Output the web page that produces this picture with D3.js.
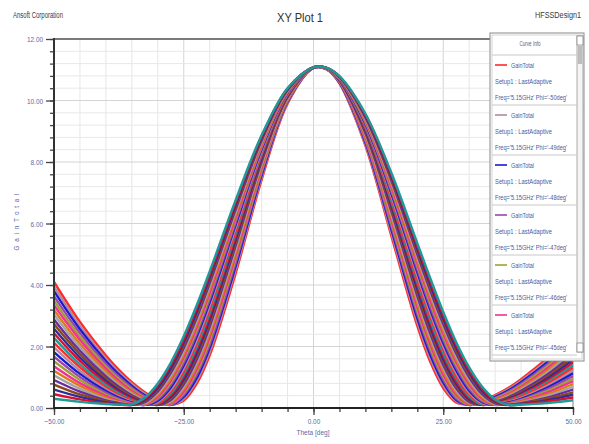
<!DOCTYPE html>
<html><head><meta charset="utf-8">
<script src="https://cdn.jsdelivr.net/npm/d3@7"></script>
<style>
body{margin:0;background:#fff;}
svg{display:block;}
text{font-family:"Liberation Sans Narrow","Arial Narrow","Liberation Sans",Arial,sans-serif;}
</style></head><body>
<svg id="chart" width="589" height="444"></svg>
<script>
// ---------------- DATA ----------------
const theta = [-50,-45,-40,-37.5,-35,-32.5,-30,-27.5,-25,-22.5,-20,-15,-10,-5,0,2.5,5,10,15,20,22.5,25,27.5,30,32.5,35,37.5,40,45,50];
const phiDeg = [-50,-49,-48,-47,-46,-45,-44,-43,-42,-41,-40,-39,-38,-37,-36,-35,-34,-33,-32,-31,-30,-29,-28,-27,-26,-25];

const phi_m50 = [4.10,2.80,1.71,1.24,0.84,0.51,0.25,0.11,0.24,0.79,1.71,4.38,7.42,9.90,11.06,11.02,10.56,8.53,5.60,2.67,1.50,0.65,0.18,0.12,0.23,0.42,0.65,0.94,1.62,2.45];
const phi_m49 = [3.95,2.68,1.61,1.16,0.78,0.46,0.22,0.10,0.30,0.89,1.83,4.50,7.50,9.93,11.06,11.02,10.57,8.58,5.70,2.80,1.62,0.74,0.22,0.11,0.21,0.39,0.61,0.89,1.55,2.36];
const phi_m48 = [3.80,2.56,1.53,1.09,0.72,0.41,0.20,0.10,0.36,0.98,1.95,4.61,7.57,9.96,11.06,11.02,10.58,8.64,5.81,2.92,1.73,0.83,0.26,0.10,0.19,0.36,0.57,0.84,1.48,2.27];
const phi_m47 = [3.64,2.44,1.44,1.02,0.66,0.37,0.17,0.11,0.42,1.08,2.06,4.73,7.65,9.98,11.06,11.03,10.60,8.69,5.91,3.05,1.85,0.92,0.31,0.10,0.17,0.33,0.53,0.79,1.42,2.19];
const phi_m46 = [3.49,2.32,1.35,0.95,0.61,0.33,0.15,0.13,0.48,1.17,2.18,4.84,7.72,10.01,11.06,11.03,10.61,8.75,6.02,3.17,1.96,1.01,0.37,0.11,0.15,0.30,0.49,0.74,1.35,2.10];
const phi_m45 = [3.34,2.21,1.27,0.88,0.55,0.30,0.13,0.15,0.54,1.27,2.30,4.96,7.80,10.04,11.07,11.03,10.62,8.80,6.12,3.30,2.08,1.10,0.43,0.12,0.14,0.27,0.45,0.69,1.28,2.01];
const phi_m44 = [3.19,2.09,1.19,0.81,0.50,0.27,0.12,0.18,0.62,1.37,2.42,5.07,7.87,10.06,11.07,11.03,10.63,8.85,6.21,3.42,2.19,1.20,0.50,0.14,0.13,0.25,0.42,0.65,1.21,1.92];
const phi_m43 = [3.04,1.98,1.11,0.75,0.46,0.23,0.11,0.22,0.69,1.48,2.53,5.17,7.93,10.08,11.07,11.03,10.64,8.90,6.30,3.53,2.31,1.30,0.57,0.17,0.12,0.22,0.38,0.60,1.15,1.83];
const phi_m42 = [2.88,1.86,1.03,0.69,0.41,0.21,0.10,0.26,0.77,1.58,2.65,5.28,8.00,10.11,11.07,11.04,10.65,8.94,6.40,3.65,2.42,1.40,0.64,0.20,0.11,0.20,0.35,0.56,1.08,1.75];
const phi_m41 = [2.73,1.75,0.95,0.63,0.37,0.18,0.10,0.31,0.85,1.69,2.76,5.38,8.06,10.13,11.07,11.04,10.66,8.99,6.49,3.76,2.54,1.50,0.72,0.24,0.10,0.18,0.32,0.51,1.02,1.66];
const phi_m40 = [2.58,1.64,0.88,0.57,0.33,0.16,0.11,0.36,0.93,1.79,2.88,5.49,8.13,10.15,11.07,11.04,10.67,9.04,6.58,3.88,2.65,1.60,0.79,0.28,0.10,0.16,0.29,0.47,0.95,1.57];
const phi_m39 = [2.43,1.53,0.81,0.52,0.30,0.14,0.12,0.41,1.02,1.90,2.99,5.58,8.19,10.17,11.07,11.04,10.68,9.08,6.66,3.99,2.76,1.70,0.87,0.33,0.11,0.15,0.27,0.44,0.89,1.48];
const phi_m38 = [2.28,1.42,0.74,0.47,0.26,0.13,0.15,0.47,1.11,2.00,3.10,5.68,8.24,10.19,11.07,11.04,10.69,9.12,6.74,4.10,2.87,1.80,0.96,0.38,0.12,0.14,0.24,0.40,0.83,1.39];
const phi_m37 = [2.12,1.32,0.67,0.42,0.23,0.11,0.17,0.54,1.20,2.11,3.22,5.77,8.30,10.21,11.07,11.05,10.70,9.16,6.82,4.20,2.98,1.91,1.04,0.44,0.14,0.13,0.22,0.37,0.78,1.31];
const phi_m36 = [1.97,1.21,0.61,0.38,0.20,0.11,0.20,0.60,1.29,2.21,3.33,5.87,8.35,10.23,11.07,11.05,10.71,9.20,6.90,4.31,3.09,2.01,1.13,0.50,0.16,0.12,0.20,0.33,0.72,1.22];
const phi_m35 = [1.82,1.11,0.55,0.34,0.18,0.10,0.24,0.67,1.38,2.32,3.44,5.96,8.41,10.25,11.07,11.05,10.72,9.24,6.98,4.42,3.20,2.11,1.22,0.56,0.19,0.11,0.18,0.30,0.66,1.13];
const phi_m34 = [1.67,1.01,0.49,0.30,0.16,0.10,0.28,0.75,1.47,2.42,3.54,6.04,8.46,10.27,11.08,11.05,10.73,9.28,7.05,4.52,3.30,2.21,1.31,0.63,0.22,0.10,0.16,0.27,0.61,1.04];
const phi_m33 = [1.52,0.91,0.44,0.26,0.14,0.11,0.33,0.82,1.57,2.52,3.65,6.13,8.51,10.28,11.08,11.05,10.73,9.31,7.12,4.62,3.41,2.32,1.40,0.70,0.26,0.10,0.14,0.25,0.55,0.95];
const phi_m32 = [1.36,0.81,0.39,0.23,0.13,0.12,0.37,0.90,1.66,2.63,3.75,6.21,8.56,10.30,11.08,11.05,10.74,9.35,7.20,4.71,3.51,2.42,1.50,0.77,0.30,0.11,0.13,0.22,0.50,0.87];
const phi_m31 = [1.21,0.72,0.34,0.20,0.12,0.14,0.43,0.97,1.76,2.73,3.86,6.30,8.61,10.31,11.08,11.05,10.75,9.38,7.27,4.81,3.62,2.53,1.59,0.85,0.35,0.12,0.12,0.20,0.44,0.78];
const phi_m30 = [1.06,0.62,0.29,0.18,0.11,0.16,0.48,1.05,1.85,2.83,3.96,6.38,8.66,10.33,11.08,11.06,10.75,9.42,7.34,4.91,3.72,2.63,1.68,0.92,0.40,0.13,0.11,0.17,0.39,0.69];
const phi_m29 = [0.91,0.53,0.25,0.16,0.10,0.19,0.54,1.14,1.95,2.93,4.06,6.46,8.70,10.34,11.08,11.06,10.76,9.45,7.40,5.00,3.82,2.73,1.77,1.00,0.45,0.15,0.10,0.16,0.34,0.60];
const phi_m28 = [0.76,0.44,0.22,0.14,0.10,0.22,0.60,1.22,2.04,3.03,4.15,6.53,8.74,10.36,11.08,11.06,10.77,9.48,7.46,5.09,3.92,2.83,1.86,1.08,0.51,0.18,0.10,0.14,0.30,0.51];
const phi_m27 = [0.60,0.36,0.18,0.12,0.10,0.26,0.66,1.30,2.14,3.14,4.25,6.61,8.79,10.37,11.08,11.06,10.78,9.51,7.53,5.18,4.02,2.92,1.96,1.16,0.56,0.21,0.10,0.13,0.25,0.43];
const phi_m26 = [0.45,0.28,0.15,0.11,0.11,0.30,0.73,1.39,2.23,3.24,4.34,6.68,8.83,10.39,11.08,11.06,10.78,9.54,7.59,5.27,4.12,3.02,2.05,1.24,0.63,0.24,0.10,0.12,0.21,0.34];
const phi_m25 = [0.30,0.20,0.13,0.11,0.12,0.34,0.80,1.47,2.33,3.34,4.44,6.76,8.87,10.40,11.08,11.06,10.79,9.57,7.65,5.36,4.22,3.12,2.14,1.32,0.69,0.28,0.10,0.11,0.16,0.25];

const series = [phi_m50,phi_m49,phi_m48,phi_m47,phi_m46,phi_m45,phi_m44,phi_m43,phi_m42,phi_m41,phi_m40,phi_m39,phi_m38,
                phi_m37,phi_m36,phi_m35,phi_m34,phi_m33,phi_m32,phi_m31,phi_m30,phi_m29,phi_m28,phi_m27,phi_m26,phi_m25];

const xMajorTicks = [-50,-25,0,25,50];
const yMajorTicks = [0,2,4,6,8,10,12];
const palette = ["#ff2a2a","#b38a9c","#1a1ad2","#9448b0","#a0a032","#f0309a","#e07818","#a4a4a4","#6a2aa0","#8b4a1a","#2c2c9a","#d81030","#1f9a9a"];

// ---------------- CHART ----------------
const svg = d3.select("#chart");
const W = 589, H = 444;
const L = 54, R = 573, T = 39, B = 408;
const x = d3.scaleLinear().domain([-50,50]).range([L,R]);
const y = d3.scaleLinear().domain([0,12]).range([B,T]);
const labelColor = "#5b6aa6";

function fitWidth(sel, w, adj){
  sel.attr("textLength", w).attr("lengthAdjust", adj || "spacingAndGlyphs");
}
function squeeze(sel, f){
  sel.each(function(){
    const w = this.getComputedTextLength();
    d3.select(this).attr("textLength", w*f).attr("lengthAdjust","spacingAndGlyphs");
  });
}

svg.append("rect").attr("width",W).attr("height",H).attr("fill","#fff");

// header texts
svg.append("text").attr("x",13).attr("y",18).attr("font-size",8.5).attr("fill","#3a3a3a").text("Ansoft Corporation").call(fitWidth,50);
svg.append("text").attr("x",300).attr("y",22).attr("font-size",13).attr("text-anchor","middle").attr("fill","#333").text("XY Plot 1").call(fitWidth,46);
svg.append("text").attr("x",535).attr("y",18).attr("font-size",8.5).attr("fill","#3a3a3a").text("HFSSDesign1").call(fitWidth,46);

// grid
const xMinor = d3.range(-50, 50.001, 5);
const yMinor = d3.range(0, 12.001, 0.4).map(v => +v.toFixed(2));
const grid = svg.append("g");
grid.selectAll("line.vx").data(xMinor).join("line")
  .attr("x1",d=>x(d)).attr("x2",d=>x(d)).attr("y1",T).attr("y2",B)
  .attr("stroke",d=>xMajorTicks.includes(d)?"#d4d4d4":"#e6e6e6").attr("stroke-width",1);
grid.selectAll("line.hy").data(yMinor).join("line")
  .attr("x1",L).attr("x2",R).attr("y1",d=>y(d)).attr("y2",d=>y(d))
  .attr("stroke",d=>(Math.abs(d/2-Math.round(d/2))<1e-6)?"#d4d4d4":"#e8e8e8").attr("stroke-width",1);

// frame
svg.append("line").attr("x1",L).attr("x2",R).attr("y1",T).attr("y2",T).attr("stroke","#555").attr("stroke-width",1.4);
svg.append("line").attr("x1",R).attr("x2",R).attr("y1",T).attr("y2",B).attr("stroke","#999").attr("stroke-width",1);

// curves
svg.append("clipPath").attr("id","plotclip").append("rect").attr("x",L).attr("y",T).attr("width",R-L).attr("height",B-T);
const line = d3.line().x((d,i)=>x(theta[i])).y(d=>y(d)).curve(d3.curveCatmullRom.alpha(0.5));
svg.append("g").attr("clip-path","url(#plotclip)")
  .selectAll("path").data(series).join("path")
  .attr("d",line).attr("fill","none")
  .attr("stroke",(d,i)=>palette[i%palette.length]).attr("stroke-width",2.4)
  .attr("stroke-linejoin","round");

// axes
const axL = svg.append("g").attr("transform",`translate(${L},0)`);
axL.call(d3.axisLeft(y).tickValues(yMinor).tickSize(4).tickFormat(""));
axL.call(g=>g.select(".domain").remove());
const axL2 = svg.append("g").attr("transform",`translate(${L},0)`)
  .call(d3.axisLeft(y).tickValues(yMajorTicks).tickSize(8).tickPadding(3).tickFormat(d3.format(".2f")));
axL2.select(".domain").remove();
const axB = svg.append("g").attr("transform",`translate(0,${B})`);
axB.call(d3.axisBottom(x).tickValues(xMinor).tickSize(4).tickFormat(""));
axB.call(g=>g.select(".domain").remove());
const axB2 = svg.append("g").attr("transform",`translate(0,${B})`)
  .call(d3.axisBottom(x).tickValues(xMajorTicks).tickSize(7).tickPadding(3).tickFormat(d3.format(".2f")));
axB2.select(".domain").remove();
svg.selectAll(".tick line").attr("stroke","#444").attr("stroke-width",1.3);
svg.selectAll(".tick text").attr("fill",labelColor).attr("font-size",8)
  .attr("font-family",'"Liberation Sans Narrow","Arial Narrow","Liberation Sans",sans-serif')
  .call(squeeze,0.8);
svg.append("line").attr("x1",L).attr("x2",L).attr("y1",T-1).attr("y2",B+1).attr("stroke","#333").attr("stroke-width",2);
svg.append("line").attr("x1",L-1).attr("x2",R+1).attr("y1",B).attr("y2",B).attr("stroke","#222").attr("stroke-width",2);

// axis titles
svg.append("text").attr("x",313).attr("y",435).attr("text-anchor","middle").attr("font-size",7.5).attr("fill",labelColor).text("Theta [deg]").call(fitWidth,33);
svg.append("text").attr("transform","translate(19,222) rotate(-90)").attr("text-anchor","middle")
  .attr("font-size",6.5).attr("fill",labelColor).text("GainTotal").call(fitWidth,57,"spacing");

// legend
const lg = svg.append("g");
const lx = 490, ly = 33, lw = 94, lh = 328;
lg.append("rect").attr("x",lx).attr("y",ly).attr("width",lw).attr("height",lh).attr("fill","#fff").attr("stroke","#8a8a8a").attr("stroke-width",1);
lg.append("rect").attr("x",lx+2).attr("y",ly+2).attr("width",lw-4).attr("height",lh-4).attr("fill","none").attr("stroke","#c8c8c8").attr("stroke-width",0.8);
const sbx = 577;
lg.append("rect").attr("x",sbx).attr("y",ly+3).attr("width",6).attr("height",lh-12).attr("fill","#f4f4f4").attr("stroke","#9a9a9a").attr("stroke-width",0.8);
lg.append("rect").attr("x",sbx).attr("y",ly+3).attr("width",6).attr("height",9).attr("fill","#fff").attr("stroke","#888").attr("stroke-width",0.8);
lg.append("rect").attr("x",sbx+0.8).attr("y",ly+13).attr("width",4.4).attr("height",18).attr("fill","#bdbdbd");
lg.append("rect").attr("x",sbx).attr("y",ly+lh-18).attr("width",6).attr("height",9).attr("fill","#fff").attr("stroke","#888").attr("stroke-width",0.8);
lg.append("text").attr("x",530).attr("y",ly+13).attr("text-anchor","middle").attr("font-size",7).attr("fill","#5a5a80").text("Curve Info").call(fitWidth,21);
lg.append("line").attr("x1",lx+2).attr("x2",sbx).attr("y1",ly+22).attr("y2",ly+22).attr("stroke","#c8c8c8");
const shown = d3.range(6);
shown.forEach(i=>{
  const gy = 65 + i*50;
  lg.append("line").attr("x1",495).attr("x2",507).attr("y1",gy).attr("y2",gy).attr("stroke",palette[i%palette.length]).attr("stroke-width",1.6);
  lg.append("text").attr("x",511).attr("y",gy+2.5).attr("font-size",7).attr("fill","#4a5aa0").text("GainTotal").call(fitWidth,23);
  lg.append("text").attr("x",495).attr("y",gy+19).attr("font-size",7).attr("fill","#4a5aa0").text("Setup1 : LastAdaptive").call(fitWidth,57);
  lg.append("text").attr("x",495).attr("y",gy+35).attr("font-size",7).attr("fill","#4a5aa0")
    .text(`Freq='5.15GHz' Phi='${phiDeg[i]}deg'`).call(fitWidth,72);
  lg.append("line").attr("x1",lx+2).attr("x2",sbx).attr("y1",gy+40).attr("y2",gy+40).attr("stroke","#c8c8c8");
});
</script>
</body></html>
